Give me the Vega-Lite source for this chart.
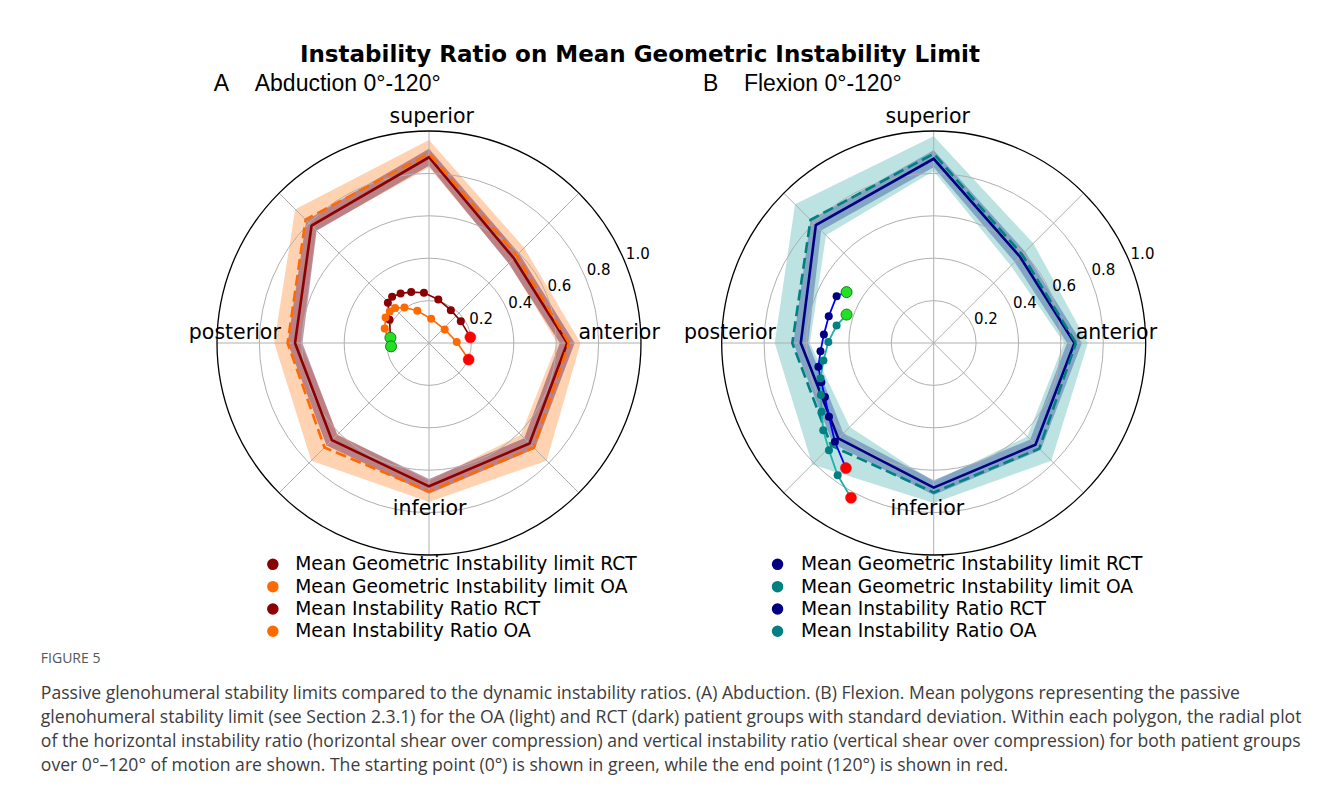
{
  "$schema": "https://vega.github.io/schema/vega-lite/v6.json",
  "padding": {"left": 40, "top": 43, "right": 5, "bottom": 5},
  "background": "white",
  "datasets": {
    "gridd": [
      {"k": "ring", "r": 0.2, "x": 0, "y": 0}, {"k": "ring", "r": 0.4, "x": 0, "y": 0}, {"k": "ring", "r": 0.6, "x": 0, "y": 0}, {"k": "ring", "r": 0.8, "x": 0, "y": 0},
      {"k": "outer", "r": 1.0, "x": 0, "y": 0},
      {"k": "spoke", "x": 0, "y": 0, "x2": 1, "y2": 0},
      {"k": "spoke", "x": 0, "y": 0, "x2": 0.7071, "y2": 0.7071},
      {"k": "spoke", "x": 0, "y": 0, "x2": 0, "y2": 1},
      {"k": "spoke", "x": 0, "y": 0, "x2": -0.7071, "y2": 0.7071},
      {"k": "spoke", "x": 0, "y": 0, "x2": -1, "y2": 0},
      {"k": "spoke", "x": 0, "y": 0, "x2": -0.7071, "y2": -0.7071},
      {"k": "spoke", "x": 0, "y": 0, "x2": 0, "y2": -1},
      {"k": "spoke", "x": 0, "y": 0, "x2": 0.7071, "y2": -0.7071},
      {"k": "rl", "t": "0.2", "x": 0.1848, "y": 0.0765},
      {"k": "rl", "t": "0.4", "x": 0.3696, "y": 0.1531},
      {"k": "rl", "t": "0.6", "x": 0.5543, "y": 0.2296},
      {"k": "rl", "t": "0.8", "x": 0.7391, "y": 0.3061},
      {"k": "rl", "t": "1.0", "x": 0.9239, "y": 0.3827}
    ],
    "panelA": [
      {"k": "bandOA", "i": 0, "x": 0.715, "y": 0}, {"k": "bandOA", "i": 1, "x": 0.449, "y": 0.449}, {"k": "bandOA", "i": 2, "x": 0, "y": 0.958}, {"k": "bandOA", "i": 3, "x": -0.631, "y": 0.631}, {"k": "bandOA", "i": 4, "x": -0.73, "y": 0}, {"k": "bandOA", "i": 5, "x": -0.555, "y": -0.555}, {"k": "bandOA", "i": 6, "x": 0, "y": -0.75}, {"k": "bandOA", "i": 7, "x": 0.555, "y": -0.555}, {"k": "bandOA", "i": 8, "x": 0.715, "y": 0},
      {"k": "bandOA", "i": 9, "x": 0.605, "y": 0}, {"k": "bandOA", "i": 10, "x": 0.433, "y": -0.433}, {"k": "bandOA", "i": 11, "x": 0, "y": -0.65}, {"k": "bandOA", "i": 12, "x": -0.431, "y": -0.431}, {"k": "bandOA", "i": 13, "x": -0.604, "y": 0}, {"k": "bandOA", "i": 14, "x": -0.532, "y": 0.532}, {"k": "bandOA", "i": 15, "x": 0, "y": 0.828}, {"k": "bandOA", "i": 16, "x": 0.377, "y": 0.377}, {"k": "bandOA", "i": 17, "x": 0.605, "y": 0},
      {"k": "bandRCT", "i": 0, "x": 0.687, "y": 0}, {"k": "bandRCT", "i": 1, "x": 0.424, "y": 0.424}, {"k": "bandRCT", "i": 2, "x": 0, "y": 0.916}, {"k": "bandRCT", "i": 3, "x": -0.579, "y": 0.579}, {"k": "bandRCT", "i": 4, "x": -0.667, "y": 0}, {"k": "bandRCT", "i": 5, "x": -0.483, "y": -0.483}, {"k": "bandRCT", "i": 6, "x": 0, "y": -0.711}, {"k": "bandRCT", "i": 7, "x": 0.499, "y": -0.499}, {"k": "bandRCT", "i": 8, "x": 0.687, "y": 0},
      {"k": "bandRCT", "i": 9, "x": 0.617, "y": 0}, {"k": "bandRCT", "i": 10, "x": 0.449, "y": -0.449}, {"k": "bandRCT", "i": 11, "x": 0, "y": -0.641}, {"k": "bandRCT", "i": 12, "x": -0.433, "y": -0.433}, {"k": "bandRCT", "i": 13, "x": -0.597, "y": 0}, {"k": "bandRCT", "i": 14, "x": -0.53, "y": 0.53}, {"k": "bandRCT", "i": 15, "x": 0, "y": 0.836}, {"k": "bandRCT", "i": 16, "x": 0.375, "y": 0.375}, {"k": "bandRCT", "i": 17, "x": 0.617, "y": 0},
      {"k": "limRCT", "s": "Mean Geometric Instability limit RCT", "i": 0, "x": 0.652, "y": 0}, {"k": "limRCT", "s": "Mean Geometric Instability limit RCT", "i": 1, "x": 0.4, "y": 0.4}, {"k": "limRCT", "s": "Mean Geometric Instability limit RCT", "i": 2, "x": 0, "y": 0.876}, {"k": "limRCT", "s": "Mean Geometric Instability limit RCT", "i": 3, "x": -0.554, "y": 0.554}, {"k": "limRCT", "s": "Mean Geometric Instability limit RCT", "i": 4, "x": -0.632, "y": 0}, {"k": "limRCT", "s": "Mean Geometric Instability limit RCT", "i": 5, "x": -0.458, "y": -0.458}, {"k": "limRCT", "s": "Mean Geometric Instability limit RCT", "i": 6, "x": 0, "y": -0.676}, {"k": "limRCT", "s": "Mean Geometric Instability limit RCT", "i": 7, "x": 0.474, "y": -0.474}, {"k": "limRCT", "s": "Mean Geometric Instability limit RCT", "i": 8, "x": 0.652, "y": 0},
      {"k": "limOA", "s": "Mean Geometric Instability limit OA", "i": 0, "x": 0.66, "y": 0}, {"k": "limOA", "s": "Mean Geometric Instability limit OA", "i": 1, "x": 0.413, "y": 0.413}, {"k": "limOA", "s": "Mean Geometric Instability limit OA", "i": 2, "x": 0, "y": 0.893}, {"k": "limOA", "s": "Mean Geometric Instability limit OA", "i": 3, "x": -0.582, "y": 0.582}, {"k": "limOA", "s": "Mean Geometric Instability limit OA", "i": 4, "x": -0.667, "y": 0}, {"k": "limOA", "s": "Mean Geometric Instability limit OA", "i": 5, "x": -0.493, "y": -0.493}, {"k": "limOA", "s": "Mean Geometric Instability limit OA", "i": 6, "x": 0, "y": -0.7}, {"k": "limOA", "s": "Mean Geometric Instability limit OA", "i": 7, "x": 0.494, "y": -0.494}, {"k": "limOA", "s": "Mean Geometric Instability limit OA", "i": 8, "x": 0.66, "y": 0},
      {"k": "ratio", "g": "RCT", "s": "Mean Instability Ratio RCT", "i": 0, "x": -0.182, "y": 0.025},
      {"k": "ratio", "g": "RCT", "s": "Mean Instability Ratio RCT", "i": 1, "x": -0.186, "y": 0.11},
      {"k": "ratio", "g": "RCT", "s": "Mean Instability Ratio RCT", "i": 2, "x": -0.194, "y": 0.19},
      {"k": "ratio", "g": "RCT", "s": "Mean Instability Ratio RCT", "i": 3, "x": -0.174, "y": 0.218},
      {"k": "ratio", "g": "RCT", "s": "Mean Instability Ratio RCT", "i": 4, "x": -0.134, "y": 0.234},
      {"k": "ratio", "g": "RCT", "s": "Mean Instability Ratio RCT", "i": 5, "x": -0.084, "y": 0.24},
      {"k": "ratio", "g": "RCT", "s": "Mean Instability Ratio RCT", "i": 6, "x": -0.024, "y": 0.237},
      {"k": "ratio", "g": "RCT", "s": "Mean Instability Ratio RCT", "i": 7, "x": 0.044, "y": 0.205},
      {"k": "ratio", "g": "RCT", "s": "Mean Instability Ratio RCT", "i": 8, "x": 0.103, "y": 0.155},
      {"k": "ratio", "g": "RCT", "s": "Mean Instability Ratio RCT", "i": 9, "x": 0.15, "y": 0.103},
      {"k": "ratio", "g": "RCT", "s": "Mean Instability Ratio RCT", "i": 10, "x": 0.195, "y": 0.027},
      {"k": "ratio", "g": "OA", "s": "Mean Instability Ratio OA", "i": 0, "x": -0.179, "y": -0.016},
      {"k": "ratio", "g": "OA", "s": "Mean Instability Ratio OA", "i": 1, "x": -0.209, "y": 0.068},
      {"k": "ratio", "g": "OA", "s": "Mean Instability Ratio OA", "i": 2, "x": -0.205, "y": 0.12},
      {"k": "ratio", "g": "OA", "s": "Mean Instability Ratio OA", "i": 3, "x": -0.185, "y": 0.148},
      {"k": "ratio", "g": "OA", "s": "Mean Instability Ratio OA", "i": 4, "x": -0.16, "y": 0.165},
      {"k": "ratio", "g": "OA", "s": "Mean Instability Ratio OA", "i": 5, "x": -0.116, "y": 0.167},
      {"k": "ratio", "g": "OA", "s": "Mean Instability Ratio OA", "i": 6, "x": -0.055, "y": 0.152},
      {"k": "ratio", "g": "OA", "s": "Mean Instability Ratio OA", "i": 7, "x": 0.01, "y": 0.114},
      {"k": "ratio", "g": "OA", "s": "Mean Instability Ratio OA", "i": 8, "x": 0.074, "y": 0.064},
      {"k": "ratio", "g": "OA", "s": "Mean Instability Ratio OA", "i": 9, "x": 0.131, "y": 0.005},
      {"k": "ratio", "g": "OA", "s": "Mean Instability Ratio OA", "i": 10, "x": 0.187, "y": -0.078},
      {"k": "dir", "t": "superior", "x": 0.013, "y": 1.065},
      {"k": "dir", "t": "anterior", "x": 0.897, "y": 0.045},
      {"k": "dir", "t": "posterior", "x": -0.916, "y": 0.045},
      {"k": "dir", "t": "inferior", "x": 0.003, "y": -0.783}
    ],
    "panelB": [
      {"k": "bandOA", "i": 0, "x": 0.727, "y": 0}, {"k": "bandOA", "i": 1, "x": 0.47, "y": 0.47}, {"k": "bandOA", "i": 2, "x": 0, "y": 0.975}, {"k": "bandOA", "i": 3, "x": -0.654, "y": 0.654}, {"k": "bandOA", "i": 4, "x": -0.75, "y": 0}, {"k": "bandOA", "i": 5, "x": -0.573, "y": -0.573}, {"k": "bandOA", "i": 6, "x": 0, "y": -0.755}, {"k": "bandOA", "i": 7, "x": 0.555, "y": -0.555}, {"k": "bandOA", "i": 8, "x": 0.727, "y": 0},
      {"k": "bandOA", "i": 9, "x": 0.615, "y": 0}, {"k": "bandOA", "i": 10, "x": 0.441, "y": -0.441}, {"k": "bandOA", "i": 11, "x": 0, "y": -0.655}, {"k": "bandOA", "i": 12, "x": -0.396, "y": -0.396}, {"k": "bandOA", "i": 13, "x": -0.584, "y": 0}, {"k": "bandOA", "i": 14, "x": -0.508, "y": 0.508}, {"k": "bandOA", "i": 15, "x": 0, "y": 0.811}, {"k": "bandOA", "i": 16, "x": 0.364, "y": 0.364}, {"k": "bandOA", "i": 17, "x": 0.615, "y": 0},
      {"k": "bandRCT", "i": 0, "x": 0.699, "y": 0}, {"k": "bandRCT", "i": 1, "x": 0.431, "y": 0.431}, {"k": "bandRCT", "i": 2, "x": 0, "y": 0.909}, {"k": "bandRCT", "i": 3, "x": -0.581, "y": 0.581}, {"k": "bandRCT", "i": 4, "x": -0.662, "y": 0}, {"k": "bandRCT", "i": 5, "x": -0.475, "y": -0.475}, {"k": "bandRCT", "i": 6, "x": 0, "y": -0.717}, {"k": "bandRCT", "i": 7, "x": 0.505, "y": -0.505}, {"k": "bandRCT", "i": 8, "x": 0.699, "y": 0},
      {"k": "bandRCT", "i": 9, "x": 0.629, "y": 0}, {"k": "bandRCT", "i": 10, "x": 0.455, "y": -0.455}, {"k": "bandRCT", "i": 11, "x": 0, "y": -0.647}, {"k": "bandRCT", "i": 12, "x": -0.426, "y": -0.426}, {"k": "bandRCT", "i": 13, "x": -0.592, "y": 0}, {"k": "bandRCT", "i": 14, "x": -0.531, "y": 0.531}, {"k": "bandRCT", "i": 15, "x": 0, "y": 0.829}, {"k": "bandRCT", "i": 16, "x": 0.382, "y": 0.382}, {"k": "bandRCT", "i": 17, "x": 0.629, "y": 0},
      {"k": "limRCT", "s": "Mean Geometric Instability limit RCT", "i": 0, "x": 0.664, "y": 0}, {"k": "limRCT", "s": "Mean Geometric Instability limit RCT", "i": 1, "x": 0.407, "y": 0.407}, {"k": "limRCT", "s": "Mean Geometric Instability limit RCT", "i": 2, "x": 0, "y": 0.869}, {"k": "limRCT", "s": "Mean Geometric Instability limit RCT", "i": 3, "x": -0.556, "y": 0.556}, {"k": "limRCT", "s": "Mean Geometric Instability limit RCT", "i": 4, "x": -0.627, "y": 0}, {"k": "limRCT", "s": "Mean Geometric Instability limit RCT", "i": 5, "x": -0.45, "y": -0.45}, {"k": "limRCT", "s": "Mean Geometric Instability limit RCT", "i": 6, "x": 0, "y": -0.682}, {"k": "limRCT", "s": "Mean Geometric Instability limit RCT", "i": 7, "x": 0.48, "y": -0.48}, {"k": "limRCT", "s": "Mean Geometric Instability limit RCT", "i": 8, "x": 0.664, "y": 0},
      {"k": "limOA", "s": "Mean Geometric Instability limit OA", "i": 0, "x": 0.671, "y": 0}, {"k": "limOA", "s": "Mean Geometric Instability limit OA", "i": 1, "x": 0.417, "y": 0.417}, {"k": "limOA", "s": "Mean Geometric Instability limit OA", "i": 2, "x": 0, "y": 0.893}, {"k": "limOA", "s": "Mean Geometric Instability limit OA", "i": 3, "x": -0.581, "y": 0.581}, {"k": "limOA", "s": "Mean Geometric Instability limit OA", "i": 4, "x": -0.667, "y": 0}, {"k": "limOA", "s": "Mean Geometric Instability limit OA", "i": 5, "x": -0.484, "y": -0.484}, {"k": "limOA", "s": "Mean Geometric Instability limit OA", "i": 6, "x": 0, "y": -0.705}, {"k": "limOA", "s": "Mean Geometric Instability limit OA", "i": 7, "x": 0.498, "y": -0.498}, {"k": "limOA", "s": "Mean Geometric Instability limit OA", "i": 8, "x": 0.671, "y": 0},
      {"k": "ratio", "g": "RCT", "s": "Mean Instability Ratio RCT", "i": 0, "x": -0.411, "y": 0.24},
      {"k": "ratio", "g": "RCT", "s": "Mean Instability Ratio RCT", "i": 1, "x": -0.458, "y": 0.221},
      {"k": "ratio", "g": "RCT", "s": "Mean Instability Ratio RCT", "i": 2, "x": -0.495, "y": 0.126},
      {"k": "ratio", "g": "RCT", "s": "Mean Instability Ratio RCT", "i": 3, "x": -0.518, "y": 0.04},
      {"k": "ratio", "g": "RCT", "s": "Mean Instability Ratio RCT", "i": 4, "x": -0.534, "y": -0.039},
      {"k": "ratio", "g": "RCT", "s": "Mean Instability Ratio RCT", "i": 5, "x": -0.544, "y": -0.112},
      {"k": "ratio", "g": "RCT", "s": "Mean Instability Ratio RCT", "i": 6, "x": -0.53, "y": -0.185},
      {"k": "ratio", "g": "RCT", "s": "Mean Instability Ratio RCT", "i": 7, "x": -0.513, "y": -0.255},
      {"k": "ratio", "g": "RCT", "s": "Mean Instability Ratio RCT", "i": 8, "x": -0.494, "y": -0.348},
      {"k": "ratio", "g": "RCT", "s": "Mean Instability Ratio RCT", "i": 9, "x": -0.466, "y": -0.466},
      {"k": "ratio", "g": "RCT", "s": "Mean Instability Ratio RCT", "i": 10, "x": -0.414, "y": -0.59},
      {"k": "ratio", "g": "OA", "s": "Mean Instability Ratio OA", "i": 0, "x": -0.411, "y": 0.134},
      {"k": "ratio", "g": "OA", "s": "Mean Instability Ratio OA", "i": 1, "x": -0.458, "y": 0.082},
      {"k": "ratio", "g": "OA", "s": "Mean Instability Ratio OA", "i": 2, "x": -0.497, "y": 0.005},
      {"k": "ratio", "g": "OA", "s": "Mean Instability Ratio OA", "i": 3, "x": -0.52, "y": -0.083},
      {"k": "ratio", "g": "OA", "s": "Mean Instability Ratio OA", "i": 4, "x": -0.534, "y": -0.166},
      {"k": "ratio", "g": "OA", "s": "Mean Instability Ratio OA", "i": 5, "x": -0.532, "y": -0.245},
      {"k": "ratio", "g": "OA", "s": "Mean Instability Ratio OA", "i": 6, "x": -0.529, "y": -0.324},
      {"k": "ratio", "g": "OA", "s": "Mean Instability Ratio OA", "i": 7, "x": -0.521, "y": -0.411},
      {"k": "ratio", "g": "OA", "s": "Mean Instability Ratio OA", "i": 8, "x": -0.494, "y": -0.506},
      {"k": "ratio", "g": "OA", "s": "Mean Instability Ratio OA", "i": 9, "x": -0.453, "y": -0.624},
      {"k": "ratio", "g": "OA", "s": "Mean Instability Ratio OA", "i": 10, "x": -0.39, "y": -0.73},
      {"k": "dir", "t": "superior", "x": -0.028, "y": 1.068},
      {"k": "dir", "t": "anterior", "x": 0.862, "y": 0.045},
      {"k": "dir", "t": "posterior", "x": -0.961, "y": 0.045},
      {"k": "dir", "t": "inferior", "x": -0.03, "y": -0.783}
    ]
  },
  "title": {
    "text": "FIGURE 5",
    "subtitle": [
      "Passive glenohumeral stability limits compared to the dynamic instability ratios. (A) Abduction. (B) Flexion. Mean polygons representing the passive",
      "glenohumeral stability limit (see Section 2.3.1) for the OA (light) and RCT (dark) patient groups with standard deviation. Within each polygon, the radial plot",
      "of the horizontal instability ratio (horizontal shear over compression) and vertical instability ratio (vertical shear over compression) for both patient groups",
      "over 0°–120° of motion are shown. The starting point (0°) is shown in green, while the end point (120°) is shown in red."
    ],
    "orient": "bottom",
    "anchor": "start",
    "dx": -148,
    "offset": 11,
    "font": "Open Sans",
    "fontSize": 14,
    "fontWeight": "normal",
    "color": "#555555",
    "subtitleFont": "Open Sans",
    "subtitleFontSize": 17.6,
    "subtitleColor": "#3c3c3c",
    "subtitleLineHeight": 24,
    "subtitlePadding": 19
  },
  "vconcat": [
    {
      "title": {"text": "Instability Ratio on Mean Geometric Instability Limit", "font": "DejaVu Sans", "fontSize": 23, "fontWeight": "bold", "color": "#000", "anchor": "middle", "dx": -33, "offset": 6},
      "spacing": 23.7,
      "resolve": {"scale": {"color": "independent"}, "legend": {"color": "independent"}},
      "hconcat": [
        {
          "width": 424, "height": 424,
          "title": {"text": "A\u00a0\u00a0\u00a0\u00a0Abduction 0°-120°", "anchor": "start", "dx": 25, "font": "Liberation Sans", "fontSize": 23, "fontWeight": "normal", "color": "#000", "offset": 11},
          "data": {"name": "panelA"},
          "encoding": {
            "x": {"field": "x", "type": "quantitative", "scale": {"domain": [-1, 1], "nice": false, "zero": false}, "axis": null},
            "y": {"field": "y", "type": "quantitative", "scale": {"domain": [-1, 1], "nice": false, "zero": false}, "axis": null}
          },
          "layer": [
            {"transform": [{"filter": "datum.k == 'bandOA'"}], "mark": {"type": "line", "fill": "#ff7f20", "fillOpacity": 0.35, "strokeOpacity": 0}, "encoding": {"order": {"field": "i", "type": "quantitative"}}},
            {"transform": [{"filter": "datum.k == 'bandRCT'"}], "mark": {"type": "line", "fill": "#6a2050", "fillOpacity": 0.45, "strokeOpacity": 0}, "encoding": {"order": {"field": "i", "type": "quantitative"}}},
            {"data": {"name": "gridd"}, "transform": [{"filter": "datum.k == 'ring'"}], "mark": {"type": "point", "shape": "circle", "filled": false, "stroke": "#b0b0b0", "strokeWidth": 1, "opacity": 1}, "encoding": {"size": {"field": "r", "type": "quantitative", "scale": {"type": "pow", "exponent": 2, "domain": [0, 1], "range": [0, 179776], "zero": true, "nice": false}, "legend": null}}},
            {"data": {"name": "gridd"}, "transform": [{"filter": "datum.k == 'spoke'"}], "mark": {"type": "rule", "stroke": "#b0b0b0", "strokeWidth": 1}, "encoding": {"x2": {"field": "x2"}, "y2": {"field": "y2"}}},
            {"data": {"name": "gridd"}, "transform": [{"filter": "datum.k == 'outer'"}], "mark": {"type": "point", "shape": "circle", "filled": false, "stroke": "#000", "strokeWidth": 1.3, "opacity": 1}, "encoding": {"size": {"field": "r", "type": "quantitative", "scale": {"type": "pow", "exponent": 2, "domain": [0, 1], "range": [0, 179776], "zero": true, "nice": false}, "legend": null}}},
            {"transform": [{"filter": "datum.k == 'limRCT'"}], "mark": {"type": "line", "strokeWidth": 2.6},
             "encoding": {"order": {"field": "i", "type": "quantitative"},
              "color": {"field": "s", "type": "nominal",
                "scale": {"domain": ["Mean Geometric Instability limit RCT", "Mean Geometric Instability limit OA", "Mean Instability Ratio RCT", "Mean Instability Ratio OA"], "range": ["#8b0000", "#ff6a00", "#8b0000", "#ff6a00"]},
                "legend": {"title": null, "orient": "bottom", "direction": "vertical", "offset": 0, "symbolOffset": 46.5, "labelOffset": 13, "rowPadding": 2.3, "labelFont": "DejaVu Sans", "labelFontSize": 18.7, "labelColor": "#000", "labelLimit": 600}}}},
            {"transform": [{"filter": "datum.k == 'limOA'"}], "mark": {"type": "line", "strokeWidth": 2.6, "strokeDash": [11, 5]}, "encoding": {"order": {"field": "i", "type": "quantitative"}, "color": {"field": "s", "type": "nominal"}}},
            {"transform": [{"filter": "datum.k == 'ratio' && datum.g == 'RCT'"}], "mark": {"type": "line", "strokeWidth": 1.6, "color": "#8b0000"}, "encoding": {"order": {"field": "i", "type": "quantitative"}}},
            {"transform": [{"filter": "datum.k == 'ratio' && datum.g == 'OA'"}], "mark": {"type": "line", "strokeWidth": 1.6, "color": "#ff6a00"}, "encoding": {"order": {"field": "i", "type": "quantitative"}}},
            {"transform": [{"filter": "datum.k == 'ratio' && datum.i > 0 && datum.i < 10"}], "mark": {"type": "point", "filled": true, "size": 64, "opacity": 1}, "encoding": {"color": {"field": "s", "type": "nominal"}}},
            {"transform": [{"filter": "datum.k == 'ratio' && datum.i == 0"}], "mark": {"type": "point", "filled": true, "size": 121, "opacity": 1, "fill": "#22e022", "stroke": "#1d7a1d", "strokeWidth": 1}},
            {"transform": [{"filter": "datum.k == 'ratio' && datum.i == 10"}], "mark": {"type": "point", "filled": true, "size": 121, "opacity": 1, "fill": "#ff0000", "stroke": "#ff0000", "strokeWidth": 0.5}},
            {"data": {"name": "gridd"}, "transform": [{"filter": "datum.k == 'rl'"}], "mark": {"type": "text", "align": "left", "baseline": "bottom", "font": "DejaVu Sans", "fontSize": 15, "color": "#000", "dx": 1, "dy": 0}, "encoding": {"text": {"field": "t"}}},
            {"transform": [{"filter": "datum.k == 'dir'"}], "mark": {"type": "text", "align": "center", "baseline": "middle", "font": "DejaVu Sans", "fontSize": 20.5, "color": "#000"}, "encoding": {"text": {"field": "t"}}}
          ]
        },
        {
          "width": 424, "height": 424,
          "title": {"text": "B\u00a0\u00a0\u00a0\u00a0Flexion 0°-120°", "anchor": "start", "dx": 19, "font": "Liberation Sans", "fontSize": 23, "fontWeight": "normal", "color": "#000", "offset": 11},
          "data": {"name": "panelB"},
          "encoding": {
            "x": {"field": "x", "type": "quantitative", "scale": {"domain": [-1, 1], "nice": false, "zero": false}, "axis": null},
            "y": {"field": "y", "type": "quantitative", "scale": {"domain": [-1, 1], "nice": false, "zero": false}, "axis": null}
          },
          "layer": [
            {"transform": [{"filter": "datum.k == 'bandOA'"}], "mark": {"type": "line", "fill": "#20a0a0", "fillOpacity": 0.3, "strokeOpacity": 0}, "encoding": {"order": {"field": "i", "type": "quantitative"}}},
            {"transform": [{"filter": "datum.k == 'bandRCT'"}], "mark": {"type": "line", "fill": "#3b5ba0", "fillOpacity": 0.45, "strokeOpacity": 0}, "encoding": {"order": {"field": "i", "type": "quantitative"}}},
            {"data": {"name": "gridd"}, "transform": [{"filter": "datum.k == 'ring'"}], "mark": {"type": "point", "shape": "circle", "filled": false, "stroke": "#b0b0b0", "strokeWidth": 1, "opacity": 1}, "encoding": {"size": {"field": "r", "type": "quantitative", "scale": {"type": "pow", "exponent": 2, "domain": [0, 1], "range": [0, 179776], "zero": true, "nice": false}, "legend": null}}},
            {"data": {"name": "gridd"}, "transform": [{"filter": "datum.k == 'spoke'"}], "mark": {"type": "rule", "stroke": "#b0b0b0", "strokeWidth": 1}, "encoding": {"x2": {"field": "x2"}, "y2": {"field": "y2"}}},
            {"data": {"name": "gridd"}, "transform": [{"filter": "datum.k == 'outer'"}], "mark": {"type": "point", "shape": "circle", "filled": false, "stroke": "#000", "strokeWidth": 1.3, "opacity": 1}, "encoding": {"size": {"field": "r", "type": "quantitative", "scale": {"type": "pow", "exponent": 2, "domain": [0, 1], "range": [0, 179776], "zero": true, "nice": false}, "legend": null}}},
            {"transform": [{"filter": "datum.k == 'limRCT'"}], "mark": {"type": "line", "strokeWidth": 2.6},
             "encoding": {"order": {"field": "i", "type": "quantitative"},
              "color": {"field": "s", "type": "nominal",
                "scale": {"domain": ["Mean Geometric Instability limit RCT", "Mean Geometric Instability limit OA", "Mean Instability Ratio RCT", "Mean Instability Ratio OA"], "range": ["#000080", "#008080", "#000080", "#008080"]},
                "legend": {"title": null, "orient": "bottom", "direction": "vertical", "offset": 0, "symbolOffset": 46.5, "labelOffset": 14, "rowPadding": 2.3, "labelFont": "DejaVu Sans", "labelFontSize": 18.7, "labelColor": "#000", "labelLimit": 600}}}},
            {"transform": [{"filter": "datum.k == 'limOA'"}], "mark": {"type": "line", "strokeWidth": 2.6, "strokeDash": [11, 5]}, "encoding": {"order": {"field": "i", "type": "quantitative"}, "color": {"field": "s", "type": "nominal"}}},
            {"transform": [{"filter": "datum.k == 'ratio' && datum.g == 'RCT'"}], "mark": {"type": "line", "strokeWidth": 1.8, "color": "#0000ff"}, "encoding": {"order": {"field": "i", "type": "quantitative"}}},
            {"transform": [{"filter": "datum.k == 'ratio' && datum.g == 'OA'"}], "mark": {"type": "line", "strokeWidth": 1.8, "color": "#20b2aa"}, "encoding": {"order": {"field": "i", "type": "quantitative"}}},
            {"transform": [{"filter": "datum.k == 'ratio' && datum.i > 0 && datum.i < 10"}], "mark": {"type": "point", "filled": true, "size": 64, "opacity": 1}, "encoding": {"color": {"field": "s", "type": "nominal"}}},
            {"transform": [{"filter": "datum.k == 'ratio' && datum.i == 0"}], "mark": {"type": "point", "filled": true, "size": 121, "opacity": 1, "fill": "#22e022", "stroke": "#1d7a1d", "strokeWidth": 1}},
            {"transform": [{"filter": "datum.k == 'ratio' && datum.i == 10"}], "mark": {"type": "point", "filled": true, "size": 121, "opacity": 1, "fill": "#ff0000", "stroke": "#ff0000", "strokeWidth": 0.5}},
            {"data": {"name": "gridd"}, "transform": [{"filter": "datum.k == 'rl'"}], "mark": {"type": "text", "align": "left", "baseline": "bottom", "font": "DejaVu Sans", "fontSize": 15, "color": "#000", "dx": 1, "dy": 0}, "encoding": {"text": {"field": "t"}}},
            {"transform": [{"filter": "datum.k == 'dir'"}], "mark": {"type": "text", "align": "center", "baseline": "middle", "font": "DejaVu Sans", "fontSize": 20.5, "color": "#000"}, "encoding": {"text": {"field": "t"}}}
          ]
        }
      ]
    }
  ],
  "config": {"view": {"stroke": null}}
}
